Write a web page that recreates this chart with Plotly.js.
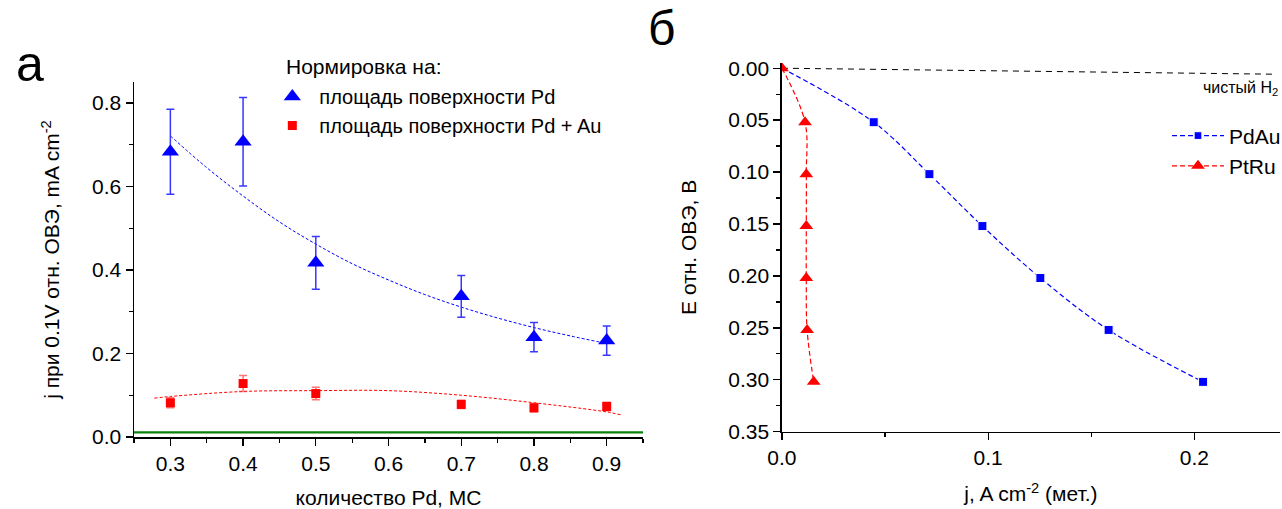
<!DOCTYPE html>
<html>
<head>
<meta charset="utf-8">
<script src="https://cdn.plot.ly/plotly-3.0.1.min.js"></script>
<style>html,body{margin:0;padding:0;background:#fff;}#chart{width:1282px;height:509px;}</style>
</head>
<body>
<div id="chart"></div>
<script>
// ---- Panel а: current at 0.1 V vs Pd amount ----
const pdAmount = [0.3, 0.4, 0.5, 0.7, 0.8, 0.9];
const jPdArea = [0.683, 0.707, 0.417, 0.337, 0.239, 0.231];
const jPdAreaErr = [0.102, 0.106, 0.063, 0.050, 0.035, 0.035];
const jPdAuArea = [0.082, 0.128, 0.104, 0.078, 0.070, 0.073];
const jPdAuAreaErr = [0.012, 0.019, 0.015, 0.010, 0.010, 0.010];
const fitPdX = [0.3, 0.35, 0.4, 0.45, 0.5, 0.55, 0.6, 0.65, 0.7, 0.75, 0.8, 0.85, 0.9];
const fitPdY = [0.721, 0.645, 0.577, 0.515, 0.462, 0.415, 0.376, 0.341, 0.311, 0.285, 0.262, 0.242, 0.224];
const fitAuX = [0.278, 0.3, 0.4, 0.5, 0.6, 0.7, 0.8, 0.9, 0.922];
const fitAuY = [0.093, 0.097, 0.109, 0.111, 0.111, 0.100, 0.082, 0.060, 0.052];
const baseX = [0.25, 0.95];
const baseY = [0.011, 0.011];

// ---- Panel б: polarization curves ----
const potE = [0, 0.052, 0.102, 0.152, 0.202, 0.252, 0.302];
const jPdAu = [0, 0.0445, 0.0715, 0.0972, 0.1253, 0.1584, 0.2042];
const jPtRu = [0, 0.0112, 0.0118, 0.0118, 0.0118, 0.0122, 0.0154];
const h2J = [0, 0.06, 0.12, 0.18, 0.24];
const h2E = [0, 0.0015, 0.003, 0.0045, 0.0058];

const FONT = 'Liberation Sans, Arial, sans-serif';
const BLUE = '#0000ff';
const RED = '#ff0000';
const FS = 21;

const traces = [
  {x: baseX, y: baseY, mode: 'lines', line: {color: '#0a820a', width: 2.2}, showlegend: false, xaxis: 'x', yaxis: 'y'},
  {x: fitPdX, y: fitPdY, mode: 'lines', line: {color: BLUE, width: 1, dash: '3px,2px', shape: 'spline'}, showlegend: false, xaxis: 'x', yaxis: 'y'},
  {x: fitAuX, y: fitAuY, mode: 'lines', line: {color: RED, width: 1, dash: '3px,2px', shape: 'spline'}, showlegend: false, xaxis: 'x', yaxis: 'y'},
  {x: pdAmount, y: jPdArea, mode: 'markers', name: 'площадь поверхности Pd',
   marker: {symbol: 'triangle-up', size: 15, color: BLUE},
   error_y: {type: 'data', array: jPdAreaErr, visible: true, color: '#3838ff', thickness: 1.5, width: 4},
   xaxis: 'x', yaxis: 'y', legend: 'legend'},
  {x: pdAmount, y: jPdAuArea, mode: 'markers', name: 'площадь поверхности Pd + Au',
   marker: {symbol: 'square', size: 9, color: RED},
   error_y: {type: 'data', array: jPdAuAreaErr, visible: true, color: 'rgba(255,60,60,0.7)', thickness: 1.5, width: 4},
   xaxis: 'x', yaxis: 'y', legend: 'legend'},

  {x: h2J, y: h2E, mode: 'lines', line: {color: '#000', width: 1, dash: '6px,5px'}, showlegend: false, xaxis: 'x2', yaxis: 'y2'},
  {x: jPdAu, y: potE, mode: 'lines+markers', name: 'PdAu',
   line: {color: BLUE, width: 1.2, dash: '5px,3px', shape: 'spline'},
   marker: {symbol: 'square', size: potE.map((v, i) => i === 0 ? 0 : 9), color: BLUE, opacity: 1},
   xaxis: 'x2', yaxis: 'y2', legend: 'legend2'},
  {x: jPtRu, y: potE, mode: 'lines+markers', name: 'PtRu',
   line: {color: RED, width: 1.2, dash: '5px,3px', shape: 'spline'},
   marker: {symbol: 'triangle-up', size: 12, color: RED}, xaxis: 'x2', yaxis: 'y2', legend: 'legend2'}
];

const axBase = {
  showgrid: false, zeroline: false, showline: true, linecolor: '#000', linewidth: 1.5,
  ticks: 'outside', ticklen: 7, tickwidth: 1.3, tickcolor: '#000',
  tickfont: {family: FONT, size: FS, color: '#000'},
  minor: {ticks: 'outside', ticklen: 4, tickwidth: 1.3, tickcolor: '#000'}
};

const layout = {
  width: 1282, height: 509,
  margin: {l: 134, r: 2, t: 60, b: 72, autoexpand: false},
  paper_bgcolor: '#fff', plot_bgcolor: 'rgba(0,0,0,0)',
  font: {family: FONT, color: '#000'},
  xaxis: Object.assign({}, axBase, {
    domain: [0, 0.4442], range: [0.25, 0.95], anchor: 'y',
    tick0: 0.3, dtick: 0.1, tickformat: '.1f', minor: Object.assign({}, axBase.minor, {dtick: 0.05}),
    title: {text: 'количество Pd, МС', font: {family: FONT, size: FS}, standoff: 16}
  }),
  yaxis: Object.assign({}, axBase, {
    domain: [0, 0.9416], range: [0, 0.85], anchor: 'x',
    dtick: 0.2, tickformat: '.1f', minor: Object.assign({}, axBase.minor, {dtick: 0.1}),
    title: {text: 'j при 0.1V отн. ОВЭ, mA cm<sup>-2</sup>', font: {family: FONT, size: FS}, standoff: 26}
  }),
  xaxis2: Object.assign({}, axBase, {
    domain: [0.5654, 1], range: [0, 0.2415], anchor: 'y2',
    dtick: 0.1, tickformat: '.1f', minor: Object.assign({}, axBase.minor, {dtick: 0.05}),
    title: {text: 'j, A cm<sup>-2</sup> (мет.)', font: {family: FONT, size: FS}, standoff: 18}
  }),
  yaxis2: Object.assign({}, axBase, {
    domain: [0.014, 0.992], range: [0.35, -0.005], anchor: 'x2',
    dtick: 0.05, tickformat: '.2f', minor: Object.assign({}, axBase.minor, {dtick: 0.025}),
    title: {text: 'E отн. ОВЭ, В', font: {family: FONT, size: FS}, standoff: 26}
  }),
  legend: {
    x: 0.1146, y: 0.955, xanchor: 'left', yanchor: 'top', bgcolor: 'rgba(0,0,0,0)',
    font: {family: FONT, size: 20}, tracegroupgap: 0, itemwidth: 44
  },
  legend2: {
    x: 0.9014, y: 0.853, xanchor: 'left', yanchor: 'top', bgcolor: 'rgba(0,0,0,0)',
    font: {family: FONT, size: 21}, itemwidth: 52
  },
  annotations: [
    {text: 'Нормировка на:', xref: 'paper', yref: 'paper', x: 0.1305, y: 0.984, xanchor: 'left', yanchor: 'middle', showarrow: false, font: {family: FONT, size: FS}},
    {text: 'а', xref: 'paper', yref: 'paper', x: -0.0908, y: 0.99, xanchor: 'center', yanchor: 'middle', showarrow: false, font: {family: FONT, size: 50}},
    {text: 'б', xref: 'paper', yref: 'paper', x: 0.4607, y: 1.083, xanchor: 'center', yanchor: 'middle', showarrow: false, font: {family: FONT, size: 48}},
    {text: 'чистый H<sub>2</sub>', xref: 'x2', yref: 'y2', x: 0.2415, y: 0.02, xanchor: 'right', yanchor: 'middle', showarrow: false, font: {family: FONT, size: 16}}
  ],
  showlegend: true
};

Plotly.newPlot('chart', traces, layout, {staticPlot: true, displayModeBar: false});
</script>
</body>
</html>
